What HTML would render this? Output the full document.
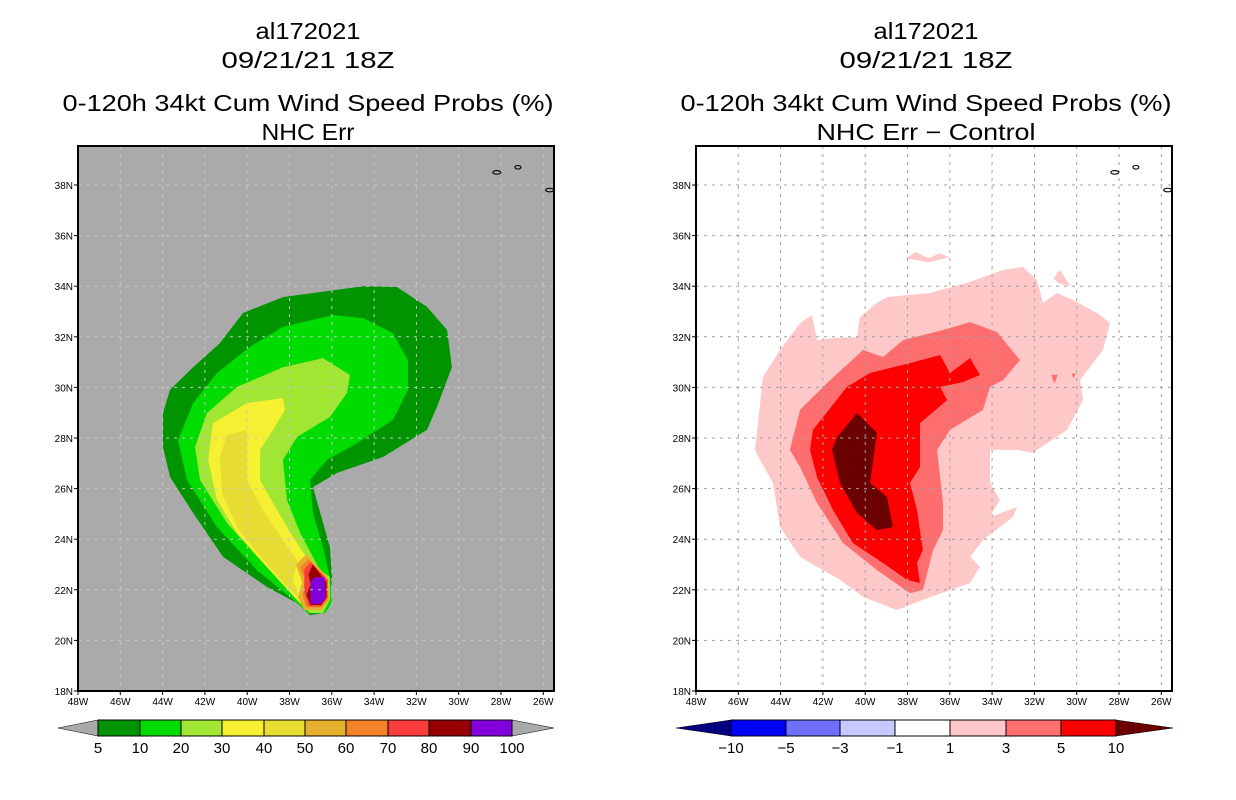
<!DOCTYPE html>
<html><head><meta charset="utf-8"><style>
html,body{margin:0;padding:0;background:#fff;}
svg{display:block;}
text{font-family:"Liberation Sans",sans-serif;}
</style></head><body>
<svg id="root" width="1236" height="800" viewBox="0 0 1236 800" xmlns="http://www.w3.org/2000/svg"></svg>
<script>
// ---- data ----
const lonTicks = [-48,-46,-44,-42,-40,-38,-36,-34,-32,-30,-28,-26];
const latTicks = [18,20,22,24,26,28,30,32,34,36,38];
const probLevels = [5,10,20,30,40,50,60,70,80,90,100];
const probColors = ["#009400","#00dc00","#a0e632","#f5f032","#e6dc32","#e6af2d","#f08228","#fa3c3c","#960000","#8200dc"];
const diffLevels = [-10,-5,-3,-1,1,3,5,10];
const diffColors = ["#000080","#0000ff","#7070ff","#c8c8ff","#ffffff","#ffc8c8","#ff6e6e","#ff0000","#6b0000"];
// left panel contours (lon,lat)
const prob5 = [[-43.98,28.99],[-43.65,29.9],[-42.56,30.8],[-41.29,31.75],[-40.2,32.94],[-38.31,33.57],[-34.53,34.0],[-32.92,33.97],[-31.5,33.18],[-30.55,32.27],[-30.32,30.8],[-31.03,29.22],[-31.5,28.32],[-33.58,27.25],[-35.75,26.62],[-36.89,26.06],[-36.09,23.69],[-35.99,22.51],[-36.09,21.48],[-36.42,21.08],[-37.03,21.0],[-37.65,21.48],[-39.06,22.11],[-41.14,23.3],[-42.56,25.04],[-43.65,26.46],[-43.98,27.64]];
const prob10 = [[-43.27,27.92],[-42.56,29.38],[-41.43,30.57],[-39.87,31.6],[-38.31,32.39],[-35.94,32.86],[-34.53,32.74],[-33.11,32.15],[-32.4,31.08],[-32.4,29.9],[-33.11,28.71],[-34.81,27.8],[-36.23,27.13],[-37.03,26.34],[-36.89,25.04],[-36.42,23.69],[-36.09,22.51],[-35.99,21.48],[-36.32,21.08],[-37.13,21.08],[-37.65,21.48],[-39.54,22.78],[-41.43,24.48],[-42.85,26.34]];
const prob20 = [[-42.47,27.64],[-41.9,28.99],[-40.48,30.02],[-38.31,30.8],[-36.42,31.16],[-35.14,30.49],[-35.28,29.78],[-36.09,28.83],[-37.65,28.04],[-38.31,27.13],[-38.12,25.55],[-37.5,24.25],[-36.56,22.78],[-36.09,22.51],[-36.09,21.6],[-36.42,21.08],[-37.03,21.08],[-37.65,21.6],[-39.39,23.18],[-40.96,24.64],[-42.23,26.34]];
const prob30 = [[-41.85,27.13],[-41.62,28.59],[-40.01,29.38],[-38.31,29.58],[-38.21,29.11],[-38.78,28.32],[-39.39,27.53],[-39.39,26.34],[-38.59,25.15],[-37.83,24.09],[-37.03,23.06],[-36.7,22.39],[-37.17,21.2],[-37.65,21.6],[-39.06,22.9],[-40.48,24.25],[-41.43,25.55]];
const prob40 = [[-41.29,27.25],[-40.96,28.12],[-40.01,28.32],[-40.01,26.34],[-39.25,25.15],[-38.31,23.97],[-37.65,23.18],[-37.83,22.39],[-37.5,21.6],[-37.98,21.99],[-39.25,23.18],[-40.48,24.48],[-41.19,25.83]];
const prob50 = [[-37.7,23.0],[-37.2,23.4],[-36.2,22.5],[-36.1,21.6],[-36.5,21.2],[-37.3,21.2],[-37.6,21.7],[-37.4,22.3]];
const prob60 = [[-37.5,22.9],[-37.1,23.2],[-36.2,22.4],[-36.2,21.6],[-36.5,21.3],[-37.2,21.3],[-37.4,21.8],[-37.2,22.3]];
const prob70 = [[-37.3,22.8],[-37.0,23.1],[-36.2,22.4],[-36.2,21.7],[-36.5,21.35],[-37.1,21.35],[-37.3,21.9]];
const prob80 = [[-37.1,22.6],[-36.9,23.0],[-36.25,22.3],[-36.25,21.7],[-36.5,21.4],[-37.0,21.4],[-37.2,21.8],[-37.0,22.2]];
const prob90 = [[-37.0,22.3],[-36.8,22.5],[-36.35,22.5],[-36.3,21.7],[-36.5,21.45],[-37.0,21.45]];
// right panel contours
const diff1 = [[-45.21,27.53],[-44.83,30.41],[-44.03,31.48],[-43.08,32.55],[-42.52,32.86],[-42.28,31.87],[-41.52,31.95],[-40.39,31.99],[-40.25,32.78],[-39.44,33.34],[-38.97,33.57],[-36.94,33.73],[-35.19,34.13],[-33.48,34.64],[-32.54,34.76],[-31.88,34.25],[-31.59,33.34],[-30.93,33.73],[-30.17,33.45],[-29.04,32.94],[-28.43,32.55],[-28.76,31.48],[-29.84,30.29],[-29.7,29.5],[-30.46,28.32],[-32.07,27.41],[-32.82,27.53],[-34.1,27.53],[-34.1,26.22],[-33.63,25.55],[-34.1,24.88],[-32.82,25.27],[-33.01,24.88],[-34.43,23.97],[-35.04,23.3],[-34.57,22.9],[-35.04,22.27],[-35.99,21.99],[-37.27,21.6],[-38.5,21.2],[-40.1,21.72],[-41.19,22.39],[-43.08,23.3],[-44.03,24.48],[-44.36,26.22],[-44.97,27.13]];
const diff1b = [[-38.1,35.1],[-37.6,35.35],[-37.0,35.1],[-36.5,35.3],[-36.0,35.15],[-37.0,34.95]];
const diff1c = [[-31.1,34.3],[-30.8,34.65],[-30.3,34.0],[-30.8,34.1]];
const diff3 = [[-43.56,27.53],[-43.08,29.11],[-41.81,30.17],[-40.1,31.48],[-39.16,31.2],[-38.21,31.87],[-36.32,32.27],[-35.04,32.58],[-33.77,32.19],[-32.68,31.08],[-33.48,30.29],[-34.1,30.02],[-34.43,29.11],[-35.99,28.32],[-36.6,27.53],[-36.32,25.43],[-36.32,24.36],[-36.79,23.57],[-37.27,21.99],[-37.88,21.87],[-39.44,22.78],[-41.05,23.85],[-42.28,25.43],[-43.08,26.85]];
const diff3b = [[-31.2,30.5],[-30.9,30.5],[-31.05,30.15]];
const diff3c = [[-30.25,30.55],[-30.05,30.55],[-30.15,30.35]];
const diff5 = [[-42.61,27.53],[-42.47,28.32],[-40.86,30.02],[-39.77,30.57],[-37.88,30.96],[-36.46,31.28],[-35.99,30.57],[-35.04,31.16],[-34.57,30.49],[-35.38,30.21],[-36.46,30.02],[-36.13,29.5],[-37.41,28.59],[-37.41,26.85],[-37.88,26.22],[-37.55,25.15],[-37.27,23.57],[-37.55,23.06],[-37.41,22.27],[-38.02,22.39],[-39.16,23.06],[-40.58,23.85],[-41.52,25.15],[-42.28,26.46]];
const diff10 = [[-41.57,27.53],[-41.33,28.04],[-40.39,28.99],[-39.44,28.2],[-39.77,26.22],[-38.97,25.67],[-38.69,24.48],[-39.44,24.36],[-40.39,25.04],[-41.19,26.22]];
const islands = [[-28.2,38.5],[-27.2,38.7],[-25.7,37.8]];

// ---- geometry ----
const NS = "http://www.w3.org/2000/svg";
const root = document.getElementById('root');
const F = {x0:78, x1:554, y0:146, y1:691};
const pxPerLon = 21.15, pxPerLat = 25.3;
function xScale(lon, off){ return off + F.x0 + (lon + 48) * pxPerLon; }
function yScale(lat){ return F.y1 - (lat - 18) * pxPerLat; }
function mk(tag, attrs, parent){
  const e = document.createElementNS(NS, tag);
  for (const k in attrs) e.setAttribute(k, attrs[k]);
  (parent || root).appendChild(e);
  return e;
}
function txt(s, x, y, size, anchor, parent, len){
  const a = {x:x, y:y, 'font-size':size, 'text-anchor':anchor || 'middle', fill:'#000'};
  if (len) { a.textLength = len; a.lengthAdjust = 'spacingAndGlyphs'; }
  const t = mk('text', a, parent);
  t.textContent = s;
  return t;
}
function poly(pts, off, fill, parent){
  return mk('polygon', {points: pts.map(p => xScale(p[0],off).toFixed(1)+','+yScale(p[1]).toFixed(1)).join(' '), fill: fill}, parent);
}

function panel(off, bg, gridColor, title3, t3len, layers, cbLevels, cbColors, cbX, cbTri, name){
  const g = mk('g', {});
  
  
  const cx = off + 308;
  const t1 = txt('al172021', cx, 39, 23, 'middle', g, 105);
  
  
  const t2 = txt('09/21/21 18Z', cx, 68, 23, 'middle', g, 173);
  
  
  const t3 = txt('0-120h 34kt Cum Wind Speed Probs (%)', cx, 111, 23, 'middle', g, 491);
  
  
  const t4 = txt(title3, cx, 140, 23, 'middle', g, t3len);
  
  
  const bgR = mk('rect', {x:off+F.x0, y:F.y0, width:F.x1-F.x0, height:F.y1-F.y0, fill:bg}, g);
  
  
  const clipId = 'clip' + off;
  const cp = mk('clipPath', {id: clipId}, g);
  mk('rect', {x:off+F.x0, y:F.y0, width:F.x1-F.x0, height:F.y1-F.y0}, cp);
  const cg = mk('g', {'clip-path': 'url(#'+clipId+')'}, g);
  layers.forEach(L => {
    const p = poly(L.pts, off, L.color, cg);
    
    
  });
  lonTicks.forEach(lon => {
    const x = xScale(lon, off);
    if (lon > -48) {
      const l = mk('line', {x1:x, x2:x, y1:F.y0, y2:F.y1, stroke:gridColor, 'stroke-width':1, 'stroke-dasharray':'3,5'}, cg);
      
      
    }
    mk('line', {x1:x, x2:x, y1:F.y1, y2:F.y1+4, stroke:'#000'}, g);
    const tl = txt(Math.abs(lon)+'W', x, F.y1+14, 10, 'middle', g);
    
    
  });
  latTicks.forEach(lat => {
    const y = yScale(lat);
    if (lat > 18) {
      const l = mk('line', {x1:off+F.x0, x2:off+F.x1, y1:y, y2:y, stroke:gridColor, 'stroke-width':1, 'stroke-dasharray':'3,5'}, cg);
      
      
    }
    mk('line', {x1:off+F.x0-4, x2:off+F.x0, y1:y, y2:y, stroke:'#000'}, g);
    const tl = txt(lat+'N', off+F.x0-5, y+4, 10, 'end', g);
    
    
  });
  islands.forEach((p, i) => {
    const e = mk('ellipse', {cx:xScale(p[0],off), cy:yScale(p[1]), rx:i==1?3:4, ry:1.8, fill:'none', stroke:'#000', 'stroke-width':1.1}, cg);
    
    
  });
  const fr = mk('rect', {x:off+F.x0, y:F.y0, width:F.x1-F.x0, height:F.y1-F.y0, fill:'none', stroke:'#000', 'stroke-width':2}, g);
  
  
  const cb = mk('g', {}, g);
  
  
  const yT = 720, yB = 736, yM = 728;
  const n = cbX.length;
  const lt = mk('polygon', {points: cbTri[0]+','+yM+' '+cbX[0]+','+yT+' '+cbX[0]+','+yB, fill: cbColors[0], stroke:'#000', 'stroke-width':0.5}, cb);
  
  
  const rt = mk('polygon', {points: cbTri[1]+','+yM+' '+cbX[n-1]+','+yT+' '+cbX[n-1]+','+yB, fill: cbColors[cbColors.length-1], stroke:'#000', 'stroke-width':0.5}, cb);
  
  
  for (let i = 0; i < n - 1; i++) {
    const r = mk('rect', {x:cbX[i], y:yT, width:cbX[i+1]-cbX[i], height:yB-yT, fill: cbColors[i + 1], stroke:'#000', 'stroke-width':1}, cb);
    
    
  }
  cbLevels.forEach((v, i) => {
    const s = String(v).replace('-', '\u2212');
    const t = txt(s, cbX[i], 753, 15, 'middle', cb);
    
    
  });
}

const probLayers = [
  {pts:prob5, color:probColors[0], name:'prob-5-contour'},
  {pts:prob10, color:probColors[1], name:'prob-10-contour'},
  {pts:prob20, color:probColors[2], name:'prob-20-contour'},
  {pts:prob30, color:probColors[3], name:'prob-30-contour'},
  {pts:prob40, color:probColors[4], name:'prob-40-contour'},
  {pts:prob50, color:probColors[5], name:'prob-50-contour'},
  {pts:prob60, color:probColors[6], name:'prob-60-contour'},
  {pts:prob70, color:probColors[7], name:'prob-70-contour'},
  {pts:prob80, color:probColors[8], name:'prob-80-contour'},
  {pts:prob90, color:probColors[9], name:'prob-90-contour'}
];
const diffLayers = [
  {pts:diff1, color:diffColors[5], name:'diff-1-contour'},
  {pts:diff1b, color:diffColors[5], name:'diff-1-contour-north'},
  {pts:diff1c, color:diffColors[5], name:'diff-1-contour-east'},
  {pts:diff3, color:diffColors[6], name:'diff-3-contour'},
  {pts:diff3b, color:diffColors[6], name:'diff-3-spot'},
  {pts:diff3c, color:diffColors[6], name:'diff-3-spot'},
  {pts:diff5, color:diffColors[7], name:'diff-5-contour'},
  {pts:diff10, color:diffColors[8], name:'diff-10-contour'}
];
panel(0, '#aaaaaa', '#c8c8c8', 'NHC Err', 93, probLayers, probLevels,
  ['#aaaaaa'].concat(probColors).concat(['#aaaaaa']),
  [98,140,181,222,264,305,346,388,429,471,512], [58,554], 'left-panel-nhc-err');
panel(618, '#ffffff', '#a0a0a0', 'NHC Err \u2212 Control', 219, diffLayers, diffLevels,
  diffColors, [731,786,840,895,950,1006,1061,1116], [676,1173], 'right-panel-diff');
</script>
</body></html>
